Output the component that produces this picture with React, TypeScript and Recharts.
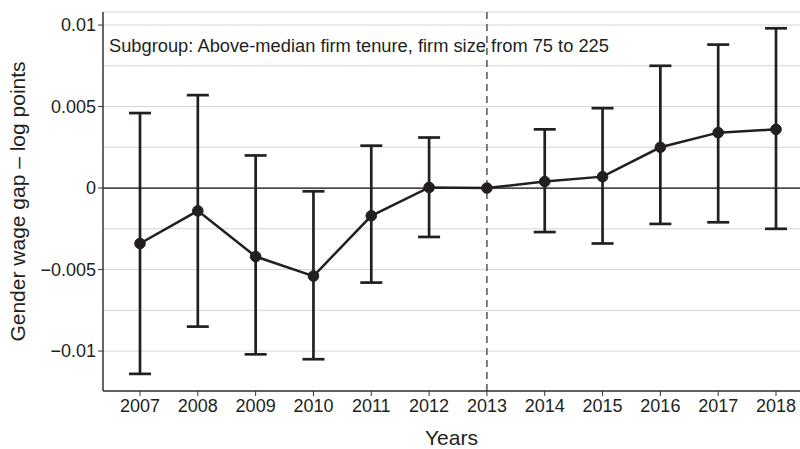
import React from 'react';
import {
  ComposedChart,
  Line,
  ErrorBar,
  XAxis,
  YAxis,
  CartesianGrid,
  ReferenceLine,
} from 'recharts';

// event-study estimates, 2013 is the reference year (no interval)
const years = [2007, 2008, 2009, 2010, 2011, 2012, 2013, 2014, 2015, 2016, 2017, 2018];
const estimate = [-0.0034, -0.0014, -0.0042, -0.0054, -0.0017, 0.00004, 0, 0.0004, 0.0007, 0.0025, 0.0034, 0.0036];
const upper = [0.0046, 0.0057, 0.002, -0.0002, 0.0026, 0.0031, null, 0.0036, 0.0049, 0.0075, 0.0088, 0.0098];
const lower = [-0.0114, -0.0085, -0.0102, -0.0105, -0.0058, -0.003, null, -0.0027, -0.0034, -0.0022, -0.0021, -0.0025];

const yTicks = [-0.01, -0.0075, -0.005, -0.0025, 0, 0.0025, 0.005, 0.0075, 0.01];
const yLabelled = [-0.01, -0.005, 0, 0.005, 0.01];

const data = years.map((year, i) => ({
  year,
  est: estimate[i],
  err: upper[i] == null || lower[i] == null ? null : [estimate[i] - lower[i], upper[i] - estimate[i]],
}));

const FONT = 'Liberation Sans, Arial, Helvetica, sans-serif';
const INK = '#231f20';

const fmtY = (v: number) => (v === 0 ? '0' : (v < 0 ? '\u2212' : '') + String(Math.abs(v)));

const YTick = (props: any) => {
  const { x, y, payload } = props;
  if (!yLabelled.includes(payload.value)) return null;
  return (
    <g>
      <line x1={x - 5} y1={y} x2={x} y2={y} stroke="#333" strokeWidth={1} />
      <text x={x - 7} y={y} dy={6.3} textAnchor="end" fontSize={18} fill={INK} fontFamily={FONT}>
        {fmtY(payload.value)}
      </text>
    </g>
  );
};

export default function App() {
  return (
    <div style={{ position: 'absolute', left: 0, top: 0, background: '#fff' }}>
      <ComposedChart
        width={800}
        height={449}
        data={data}
        margin={{ top: 12, right: 0, bottom: 0, left: 0 }}
      >
        <CartesianGrid vertical={false} stroke="#d4d4d4" strokeWidth={1} />
        <XAxis
          dataKey="year"
          type="number"
          domain={[2006.36, 2018.415]}
          ticks={years}
          allowDataOverflow
          height={58}
          axisLine={{ stroke: '#333', strokeWidth: 1.5 }}
          tickLine={{ stroke: '#333', strokeWidth: 1 }}
          tickSize={5}
          tickMargin={3}
          tick={{ fontSize: 18, fill: INK, fontFamily: FONT }}
          label={{ value: 'Years', position: 'insideBottom', offset: 4, fontSize: 21, fill: INK, fontFamily: FONT }}
        />
        <YAxis
          type="number"
          domain={[-0.01245, 0.0108]}
          ticks={yTicks}
          allowDataOverflow
          width={103}
          axisLine={{ stroke: '#333', strokeWidth: 1.5 }}
          tickLine={false}
          tickSize={0}
          tickMargin={0}
          tick={<YTick />}
          label={{
            value: 'Gender wage gap \u2013 log points',
            angle: -90,
            position: 'insideLeft',
            offset: 18,
            style: { textAnchor: 'middle', fontSize: 21, fill: INK, fontFamily: FONT },
          }}
        />
        <ReferenceLine y={0} stroke="#111" strokeWidth={1.2} />
        <ReferenceLine x={2013} stroke="#555" strokeWidth={1.5} strokeDasharray="7 5" />
        <Line
          dataKey="est"
          stroke={INK}
          strokeWidth={2.5}
          dot={{ r: 5.3, fill: INK, stroke: INK, strokeWidth: 1 }}
          activeDot={false}
          isAnimationActive={false}
        >
          <ErrorBar dataKey="err" direction="y" width={11} stroke={INK} strokeWidth={2.7} isAnimationActive={false} />
        </Line>
        <text x={109} y={52} fontSize={18.3} fill={INK} fontFamily={FONT}>
          Subgroup: Above-median firm tenure, firm size from 75 to 225
        </text>
      </ComposedChart>
    </div>
  );
}
